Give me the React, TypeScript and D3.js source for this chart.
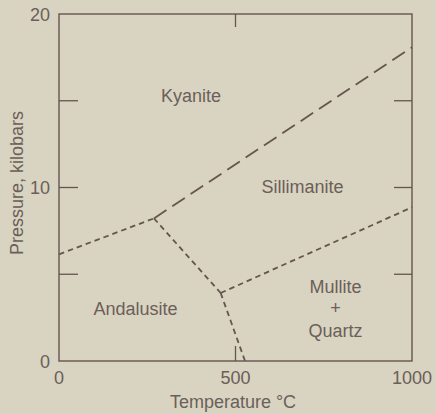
import React from "react";
import * as d3 from "d3";

// ---- data ----
const tempTicks = [0, 500, 1000];
const pressureTickLabels = [0, 10, 20];
const pressureMinorTicks = [5, 10, 15];
const tempMinorTicks = [500];

// phase boundaries [temperature °C, pressure kbar]
const kyaniteAndalusite: [number, number][] = [[0, 6.15], [269, 8.22]];
const kyaniteSillimanite: [number, number][] = [[269, 8.22], [1000, 18.08]];
const andalusiteSillimanite: [number, number][] = [[269, 8.22], [458, 3.92]];
const sillimaniteMullite: [number, number][] = [[458, 3.92], [1000, 8.86]];
const andalusiteMullite: [number, number][] = [[458, 3.92], [527, 0]];

const regionNames = ["Kyanite", "Sillimanite", "Andalusite", "Mullite", "+", "Quartz"];
const regionT = [374, 690, 217, 783, 783, 783];
const regionP = [14.93, 9.68, 2.65, 3.92, 2.71, 1.38];

const W = 436;
const H = 414;
const BG = "#d9d3c2";
const INK = "#65554e";
const TEXT = "#6b5f58";
const FONT = "'Liberation Sans', Arial, sans-serif";

export default function App() {
  const x = d3.scaleLinear().domain([0, 1000]).range([59, 412]);
  const y = d3.scaleLinear().domain([0, 20]).range([361, 14]);
  const line = d3
    .line<[number, number]>()
    .x((d) => x(d[0]))
    .y((d) => y(d[1]));

  const shortDash = "5.5,4";
  const longDash = "15,7";
  const boundaries: { pts: [number, number][]; dash: string }[] = [
    { pts: kyaniteAndalusite, dash: shortDash },
    { pts: kyaniteSillimanite, dash: longDash },
    { pts: andalusiteSillimanite, dash: shortDash },
    { pts: sillimaniteMullite, dash: shortDash },
    { pts: andalusiteMullite, dash: shortDash },
  ];

  const [x0, x1] = x.range();
  const [y0, y1] = y.range();

  return (
    <svg
      width={W}
      height={H}
      style={{ position: "absolute", left: 0, top: 0, background: BG }}
    >
      <rect x={0} y={0} width={W} height={H} fill={BG} />
      {/* frame */}
      <rect
        x={x0}
        y={y1}
        width={x1 - x0}
        height={y0 - y1}
        fill="none"
        stroke={INK}
        strokeWidth={1.4}
      />
      {/* minor ticks */}
      {pressureMinorTicks.map((p) => (
        <g key={"pt" + p}>
          <line x1={x0} x2={x0 + 19} y1={y(p)} y2={y(p)} stroke={INK} strokeWidth={1.3} />
          <line x1={x1 - 18} x2={x1} y1={y(p)} y2={y(p)} stroke={INK} strokeWidth={1.3} />
        </g>
      ))}
      {tempMinorTicks.map((t) => (
        <g key={"tt" + t}>
          <line x1={x(t)} x2={x(t)} y1={y1} y2={y1 + 13} stroke={INK} strokeWidth={1.3} />
          <line x1={x(t)} x2={x(t)} y1={y0 - 15} y2={y0} stroke={INK} strokeWidth={1.3} />
        </g>
      ))}
      {/* boundaries */}
      {boundaries.map((b, i) => (
        <path
          key={i}
          d={line(b.pts) || ""}
          fill="none"
          stroke={INK}
          strokeWidth={1.8}
          strokeDasharray={b.dash}
        />
      ))}
      {/* tick labels */}
      {tempTicks.map((t) => (
        <text
          key={"tl" + t}
          x={x(t)}
          y={384}
          textAnchor="middle"
          fontFamily={FONT}
          fontSize={18}
          fill={TEXT}
        >
          {t}
        </text>
      ))}
      {pressureTickLabels.map((p) => (
        <text
          key={"pl" + p}
          x={50}
          y={y(p) + 6.5}
          textAnchor="end"
          fontFamily={FONT}
          fontSize={18}
          fill={TEXT}
        >
          {p}
        </text>
      ))}
      {/* axis titles */}
      <text
        x={233}
        y={408}
        textAnchor="middle"
        fontFamily={FONT}
        fontSize={18}
        fill={TEXT}
      >
        Temperature °C
      </text>
      <text
        transform={`translate(23,183) rotate(-90)`}
        textAnchor="middle"
        fontFamily={FONT}
        fontSize={18}
        fill={TEXT}
      >
        Pressure, kilobars
      </text>
      {/* region labels */}
      {regionNames.map((n, i) => (
        <text
          key={"r" + i}
          x={x(regionT[i])}
          y={y(regionP[i])}
          textAnchor="middle"
          fontFamily={FONT}
          fontSize={18}
          fill={TEXT}
        >
          {n}
        </text>
      ))}
    </svg>
  );
}
